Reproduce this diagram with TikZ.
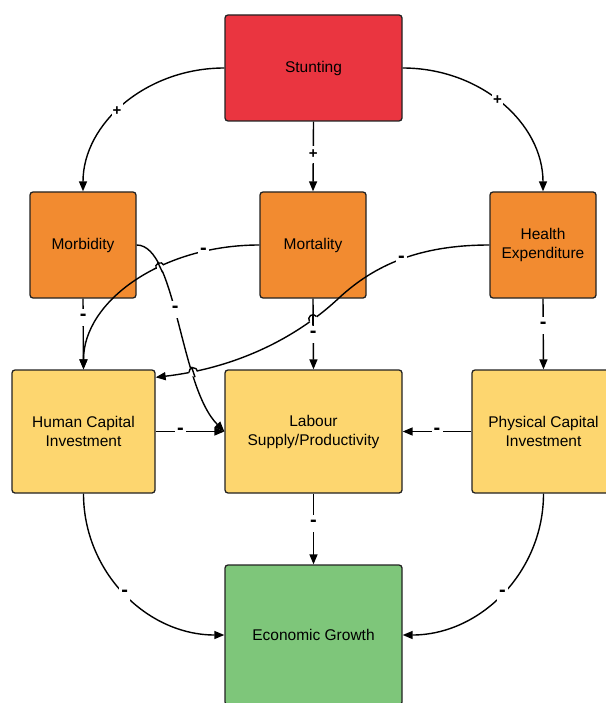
\documentclass[tikz,border=0pt]{standalone}
\usepackage{fontspec}
\setmainfont{Liberation Sans}
\usetikzlibrary{arrows.meta,calc}
\definecolor{stred}{HTML}{EA3540}
\definecolor{storange}{HTML}{F28B30}
\definecolor{styellow}{HTML}{FDD66F}
\definecolor{stgreen}{HTML}{7EC67A}
\definecolor{stborder}{HTML}{222222}
\newcommand{\hopmark}[3]{%
  \fill[white] (#1) circle[radius=4.6pt];
  \draw[line width=1.4pt] ($(#1)+(#3:5.5pt)$) -- ($(#1)+(#3+180:5.5pt)$);
  \draw[line width=1.4pt] ($(#1)+(#2:4.3pt)$) arc[start angle=#2, delta angle=180, radius=4.3pt];
}
\begin{document}
\begin{tikzpicture}[x=1pt,y=-1pt,
  box/.style={draw=stborder, line width=1.3pt, rounded corners=3pt, align=center,
    font=\fontsize{15.5}{19}\selectfont, inner sep=2pt},
  conn/.style={line width=1.4pt, -{Triangle[length=10pt,width=8pt]}},
  lbl/.style={fill=white, inner sep=0pt, minimum width=11pt, minimum height=17pt,
    font=\bfseries\fontsize{15}{15}\selectfont},
  mlbl/.style={lbl, font=\bfseries\fontsize{20}{20}\selectfont}]
\useasboundingbox (0,0) rectangle (605,703);

\node[box, fill=stred, minimum width=177pt, minimum height=106pt] (st) at (313.5,68) {Stunting};
\node[box, fill=storange, minimum width=106pt, minimum height=106pt] (mb) at (83,245) {Morbidity};
\node[box, fill=storange, minimum width=106pt, minimum height=106pt] (mt) at (313,245) {Mortality};
\node[box, fill=storange, minimum width=106pt, minimum height=106pt] (he) at (543,245) {Health\\Expenditure};
\node[box, fill=styellow, minimum width=143pt, minimum height=123pt] (hci) at (83.5,431.5) {Human Capital\\Investment};
\node[box, fill=styellow, minimum width=177pt, minimum height=123pt] (lab) at (313.5,431.5) {Labour\\Supply/Productivity};
\node[box, fill=styellow, minimum width=143pt, minimum height=123pt] (pci) at (543.5,431.5) {Physical Capital\\Investment};
\node[box, fill=stgreen, minimum width=177pt, minimum height=140pt] (eg) at (313.5,635) {Economic Growth};

\coordinate (hx) at (340,297);
\coordinate (hop1) at (313,319);
\coordinate (hop2) at (193.3,372);
\coordinate (hop3) at (160,267);

% Stunting
\draw[conn] (st.west) .. controls +(-78,0) and +(0,-68) .. (mb.north) node[lbl,pos=0.55]{+};
\draw[conn] (st.south) -- (mt.north) node[lbl,pos=0.47]{+};
\draw[conn] (st.east) .. controls +(78,0) and +(0,-68) .. (he.north) node[lbl,pos=0.47]{+};

% second row
\draw[conn] (mb.south) -- (hci.north) node[mlbl,pos=0.26]{-};
\draw[conn] (mt.south) -- (lab.north) node[mlbl,pos=0.5]{-};
\draw[conn] (he.south) -- (pci.north) node[mlbl,pos=0.38]{-};
\draw[conn] (mb.east) .. controls +(40,0) and +(-45,-45) .. (lab.west) node[mlbl,pos=0.45]{-};
\draw[conn] (mt.west) .. controls +(-98,0) and +(0,-68) .. (hci.north) node[mlbl,pos=0.2]{-};
\draw[conn] (he.west) .. controls +(-70,0) and +(35,-32) .. (hx) node[mlbl,pos=0.5]{-}
   .. controls +(-40,38) and +(85,-10) .. ($(hci.north east)+(0,8)$);

% line hops
\hopmark{hop1}{36}{90}
\hopmark{hop2}{6}{288.5}
\hopmark{hop3}{26}{295.5}

% third row
\draw[conn] (hci.east) -- (lab.west) node[mlbl,pos=0.36]{-};
\draw[conn] (pci.west) -- (lab.east) node[mlbl,pos=0.5]{-};
\draw[conn] (lab.south) -- (eg.north) node[mlbl,pos=0.42]{-};
\draw[conn] (hci.south) .. controls +(0,78) and +(-78,0) .. (eg.west) node[mlbl,pos=0.5]{-};
\draw[conn] (pci.south) .. controls +(0,78) and +(78,0) .. (eg.east) node[mlbl,pos=0.5]{-};
\end{tikzpicture}
\end{document}
